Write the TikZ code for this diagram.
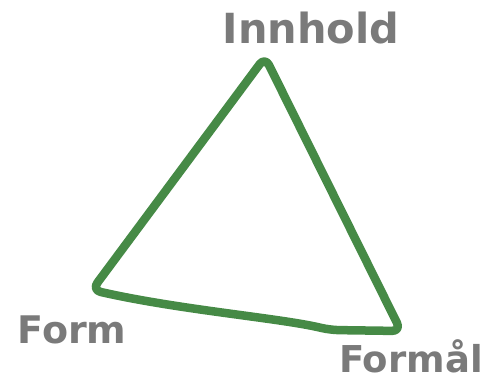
\documentclass[tikz,border=0pt]{standalone}
\usepackage{fontspec}
\setsansfont{DejaVu Sans}
\usetikzlibrary{positioning}
\definecolor{lineC}{RGB}{70,138,70}
\definecolor{labelC}{RGB}{122,122,122}
\tikzset{
	cornerlabel/.style={font=\sffamily\bfseries, text=labelC, inner sep=0pt, anchor=base},
	side/.style={draw=lineC, line width=8.5pt, line join=round, line cap=round},
}

\begin{document}
\begin{tikzpicture}[x=1pt, y=-1pt]
		\useasboundingbox (0,0) rectangle (490,380);
		
		% corners of the triangle
		\coordinate (top)   at (265,57);
		\coordinate (left)  at (92,290);
		\coordinate (right) at (401,331);
		
		% triangle
		\draw[side, rounded corners=9pt] (top) -- (left)
		.. controls (180,310) and (280,318) .. (330,330) -- (right) -- cycle;
		
		% labels
		\node[cornerlabel, font=\sffamily\bfseries\fontsize{41.5}{41.5}\selectfont] (innhold) at (311,43) {Innhold};
		\node[cornerlabel, font=\sffamily\bfseries\fontsize{38}{38}\selectfont] (form) at (72,343) {Form};
		\node[cornerlabel, font=\sffamily\bfseries\fontsize{37}{37}\selectfont] (formal) at (411,372) {Formål};
		
	\end{tikzpicture}
\end{document}
